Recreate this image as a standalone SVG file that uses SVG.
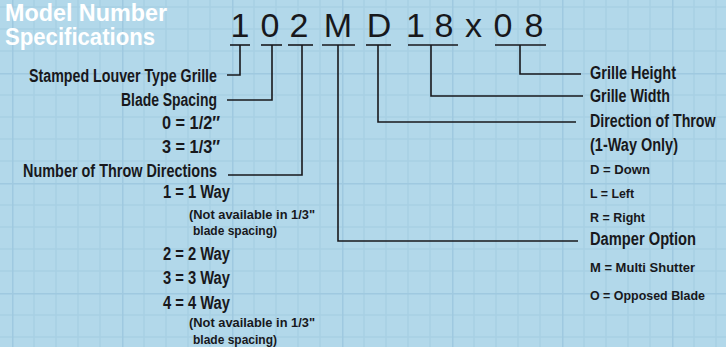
<svg xmlns="http://www.w3.org/2000/svg" width="726" height="347" viewBox="0 0 726 347">
<style>
.lbl{font-family:"Liberation Sans",Arial,sans-serif;font-weight:bold;font-size:18px;fill:#18181c}
.sm{font-size:13.5px}
.code{font-family:"Liberation Sans",Arial,sans-serif;font-size:34px;fill:#18181c;text-anchor:middle}
.title{font-family:"Liberation Sans",Arial,sans-serif;font-weight:bold;font-size:23px;fill:#ffffff}
.ul{stroke:#18181c;stroke-width:1.6;fill:none}
.con{stroke:#18181c;stroke-width:1.6;fill:none}
</style>
<defs>
<pattern id="grid" x="12" y="73" width="110" height="110" patternUnits="userSpaceOnUse">
<rect width="110" height="110" fill="#b2d8ea"/>
<g stroke="#a8d0e4" stroke-width="1.5">
<line x1="22" y1="0" x2="22" y2="110"/>
<line x1="44" y1="0" x2="44" y2="110"/>
<line x1="66" y1="0" x2="66" y2="110"/>
<line x1="88" y1="0" x2="88" y2="110"/>
<line x1="0" y1="22" x2="110" y2="22"/>
<line x1="0" y1="44" x2="110" y2="44"/>
<line x1="0" y1="66" x2="110" y2="66"/>
<line x1="0" y1="88" x2="110" y2="88"/>
</g>
<g stroke="#9fc9e0" stroke-width="3">
<line x1="0" y1="0" x2="0" y2="110"/>
<line x1="0" y1="0" x2="110" y2="0"/>
</g>
</pattern>
</defs>
<rect width="726" height="347" fill="url(#grid)"/>

<g id="title">
<text class="title" x="5" y="21" textLength="162" lengthAdjust="spacingAndGlyphs">Model Number</text>
<text class="title" x="5" y="45" textLength="150" lengthAdjust="spacingAndGlyphs">Specifications</text>
</g>

<g id="code">
<g id="c1"><text class="code" x="240" y="37">1</text><line class="ul" x1="230" y1="45" x2="250" y2="45"/></g>
<g id="c0"><text class="code" x="270" y="37">0</text><line class="ul" x1="261" y1="45" x2="282" y2="45"/></g>
<g id="c2"><text class="code" x="299" y="37">2</text><line class="ul" x1="288" y1="45" x2="313" y2="45"/></g>
<g id="cM"><text class="code" x="338" y="37">M</text><line class="ul" x1="322" y1="45" x2="355" y2="45"/></g>
<g id="cD"><text class="code" x="379" y="37">D</text><line class="ul" x1="366" y1="45" x2="391" y2="45"/></g>
<g id="c18"><text class="code" x="415.5" y="37">1</text><text class="code" x="444" y="37">8</text><line class="ul" x1="408" y1="45" x2="458" y2="45"/></g>
<g id="cx"><text class="code" x="473.5" y="37">x</text></g>
<g id="c08"><text class="code" x="503" y="37">0</text><text class="code" x="534" y="37">8</text><line class="ul" x1="495" y1="45" x2="546" y2="45"/></g>
</g>

<g id="connectors">
<path class="con" d="M240 45 V75 H227"/>
<path class="con" d="M272 45 V100 H227"/>
<path class="con" d="M302 45 V175 H228"/>
<path class="con" d="M338 45 V241 H578"/>
<path class="con" d="M378 45 V122 H576"/>
<path class="con" d="M431 45 V96 H583"/>
<path class="con" d="M520 45 V74 H581"/>
</g>

<g id="grille-type">
<text class="lbl" x="29" y="82" textLength="188" lengthAdjust="spacingAndGlyphs">Stamped Louver Type Grille</text>
</g>
<g id="blade-spacing">
<text class="lbl" x="121" y="106" textLength="96" lengthAdjust="spacingAndGlyphs">Blade Spacing</text>
<text class="lbl" x="162" y="129" textLength="58" lengthAdjust="spacingAndGlyphs">0 = 1/2″</text>
<text class="lbl" x="162" y="153" textLength="58" lengthAdjust="spacingAndGlyphs">3 = 1/3″</text>
</g>
<g id="throw-directions">
<text class="lbl" x="23" y="177" textLength="194" lengthAdjust="spacingAndGlyphs">Number of Throw Directions</text>
<text class="lbl" x="163" y="198" textLength="67" lengthAdjust="spacingAndGlyphs">1 = 1 Way</text>
<text class="lbl sm" x="189" y="219" textLength="126" lengthAdjust="spacingAndGlyphs">(Not available in 1/3"</text>
<text class="lbl sm" x="193" y="235" textLength="84" lengthAdjust="spacingAndGlyphs">blade spacing)</text>
<text class="lbl" x="163" y="260" textLength="67" lengthAdjust="spacingAndGlyphs">2 = 2 Way</text>
<text class="lbl" x="163" y="284" textLength="67" lengthAdjust="spacingAndGlyphs">3 = 3 Way</text>
<text class="lbl" x="163" y="309" textLength="67" lengthAdjust="spacingAndGlyphs">4 = 4 Way</text>
<text class="lbl sm" x="189" y="327" textLength="126" lengthAdjust="spacingAndGlyphs">(Not available in 1/3"</text>
<text class="lbl sm" x="193" y="344" textLength="84" lengthAdjust="spacingAndGlyphs">blade spacing)</text>
</g>
<g id="grille-height">
<text class="lbl" x="590" y="79" textLength="86" lengthAdjust="spacingAndGlyphs">Grille Height</text>
</g>
<g id="grille-width">
<text class="lbl" x="590" y="102" textLength="80" lengthAdjust="spacingAndGlyphs">Grille Width</text>
</g>
<g id="direction-of-throw">
<text class="lbl" transform="translate(590 127) scale(0.79 1)" x="0" y="0">Direction of Throw</text>
<text class="lbl" x="590" y="151" textLength="88" lengthAdjust="spacingAndGlyphs">(1-Way Only)</text>
<text class="lbl sm" x="590" y="174" textLength="60" lengthAdjust="spacingAndGlyphs">D = Down</text>
<text class="lbl sm" x="590" y="198" textLength="44" lengthAdjust="spacingAndGlyphs">L = Left</text>
<text class="lbl sm" x="590" y="222" textLength="55" lengthAdjust="spacingAndGlyphs">R = Right</text>
</g>
<g id="damper-option">
<text class="lbl" x="590" y="245" textLength="106" lengthAdjust="spacingAndGlyphs">Damper Option</text>
<text class="lbl sm" x="590" y="272" textLength="105" lengthAdjust="spacingAndGlyphs">M = Multi Shutter</text>
<text class="lbl sm" x="590" y="300" textLength="115" lengthAdjust="spacingAndGlyphs">O = Opposed Blade</text>
</g>
</svg>
